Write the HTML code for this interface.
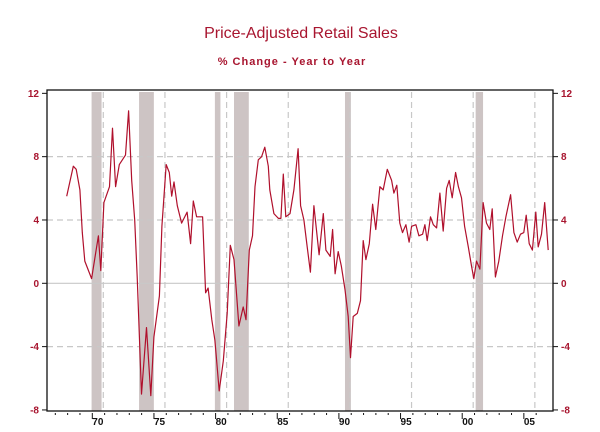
<!DOCTYPE html>
<html><head><meta charset="utf-8"><style>
body{margin:0;background:#fff;}
svg{display:block;font-family:"Liberation Sans",sans-serif;}
</style></head><body>
<svg id="chart" width="600" height="432" viewBox="0 0 600 432">
<text x="301" y="38" text-anchor="middle" font-size="16" fill="#a8152f">Price-Adjusted Retail Sales</text>
<text x="292" y="65" text-anchor="middle" font-size="11" font-weight="bold" letter-spacing="1" fill="#a8152f">% Change - Year to Year</text>
<g id="bands"></g><g id="grid"></g><g id="series"></g><g id="axes"></g>
</svg>
<script>
const years=[1967.03,1967.57,1967.8,1968.1,1968.3,1968.5,1969.05,1969.6,1969.8,1970.05,1970.5,1970.75,1971.0,1971.3,1971.8,1972.05,1972.3,1972.55,1972.75,1973.1,1973.5,1973.85,1974.1,1974.55,1974.75,1975.1,1975.35,1975.55,1975.73,1976.0,1976.35,1976.8,1977.08,1977.3,1977.57,1978.05,1978.3,1978.5,1978.8,1979.05,1979.4,1979.73,1980.05,1980.3,1980.6,1981.0,1981.35,1981.57,1981.84,1982.1,1982.3,1982.57,1982.84,1983.1,1983.38,1983.5,1983.84,1984.2,1984.4,1984.6,1984.8,1985.14,1985.46,1985.8,1986.0,1986.27,1986.54,1986.8,1987.08,1987.5,1987.84,1988.05,1988.4,1988.6,1988.8,1989.05,1989.3,1989.6,1989.86,1990.05,1990.27,1990.6,1990.86,1991.08,1991.3,1991.57,1991.84,1992.1,1992.43,1992.7,1993.03,1993.38,1993.57,1993.8,1994.05,1994.27,1994.54,1994.8,1995.0,1995.35,1995.6,1995.9,1996.08,1996.27,1996.54,1996.76,1997.03,1997.3,1997.57,1997.84,1998.05,1998.3,1998.57,1998.8,1999.05,1999.3,1999.6,1999.86,2000.05,2000.27,2000.54,2000.8,2001.08,2001.35,2001.54,2001.8,2002.08,2002.38,2002.65,2003.03,2003.3,2003.57,2003.84,2004.1,2004.3,2004.54,2004.8,2005.08,2005.27,2005.54,2005.8,2006.08];
const values=[5.5,7.4,7.2,5.9,3.2,1.4,0.3,3.0,0.8,5.1,6.1,9.8,6.1,7.5,8.1,10.9,6.5,4.0,0.4,-7.0,-2.8,-7.1,-3.4,-0.8,3.6,7.5,7.0,5.5,6.4,4.9,3.8,4.5,2.5,5.2,4.2,4.2,-0.6,-0.3,-2.3,-3.6,-6.8,-4.9,-1.9,2.4,1.5,-2.7,-1.5,-2.3,2.1,3.0,6.1,7.8,8.0,8.6,7.4,5.9,4.4,4.1,4.1,6.9,4.2,4.4,5.9,8.5,4.9,4.0,2.3,0.7,4.9,1.8,4.4,2.1,1.7,3.4,0.6,2.0,1.1,-0.4,-2.1,-4.7,-2.1,-1.9,-1.1,2.7,1.5,2.5,5.0,3.4,6.1,5.9,7.2,6.5,5.7,6.2,3.8,3.2,3.7,2.6,3.6,3.7,3.0,3.1,3.7,2.7,4.2,3.7,3.5,5.7,3.3,6.0,6.5,5.4,7.0,6.1,5.4,3.6,2.3,1.1,0.3,1.4,0.9,5.1,3.8,3.4,4.7,0.4,1.4,3.0,4.2,5.6,3.2,2.6,3.1,3.2,4.3,2.5,2.1,4.5,2.3,3.1,5.1,2.1];
const bandStart=[1969.05,1972.9,1979.05,1980.6,1989.6,2000.2];
const bandEnd=[1969.86,1974.1,1979.5,1981.8,1990.08,2000.8];
const yTicks=[-8,-4,0,4,8,12];
const xGridYears=[1970,1975,1980,1985,1990,1995,2000,2005];
const xLabels=["70","75","80","85","90","95","00","05"];

const L=47,R=553,T=90,B=411;
const X=y=>103.3+(y-1970)*12.33;
const Y=v=>283.3-v*15.83;
const NS="http://www.w3.org/2000/svg";
function mk(t,a,p){const e=document.createElementNS(NS,t);for(const k in a)e.setAttribute(k,a[k]);p.appendChild(e);return e;}
const bands=document.getElementById('bands'),grid=document.getElementById('grid'),ser=document.getElementById('series'),ax=document.getElementById('axes');
bandStart.forEach((s,i)=>{const r=mk('rect',{x:X(s),y:T+2,width:X(bandEnd[i])-X(s),height:B-T-2,fill:'#cdc4c4'},bands);

});
yTicks.forEach(v=>{if(v===12||v===-8)return;const l=mk('line',{x1:L,x2:R,y1:Y(v),y2:Y(v),stroke:'#c8c8c8','stroke-width':1.2,'stroke-dasharray':v===0?'':'6,4'},grid);

});
xGridYears.forEach(y=>{const l=mk('line',{x1:X(y),x2:X(y),y1:T+2,y2:B,stroke:'#c8c8c8','stroke-width':1.2,'stroke-dasharray':'6,4'},grid);

});
const p=mk('polyline',{points:years.map((y,i)=>X(y).toFixed(1)+','+Y(values[i]).toFixed(1)).join(' '),fill:'none',stroke:'#b0102c','stroke-width':1.2,'stroke-linejoin':'round'},ser);


const f=mk('rect',{x:L,y:T,width:R-L,height:B-T,fill:'none',stroke:'#111','stroke-width':1.3},ax);


yTicks.forEach(v=>{
mk('line',{x1:L-5,x2:L,y1:Y(v),y2:Y(v),stroke:'#111'},ax);
mk('line',{x1:R,x2:R+5,y1:Y(v),y2:Y(v),stroke:'#111'},ax);
const t1=mk('text',{x:L-8,y:Y(v)+3.5,'text-anchor':'end','font-size':10,'font-weight':'bold',fill:'#a8152f'},ax);t1.textContent=v;


const t2=mk('text',{x:R+8,y:Y(v)+3.5,'font-size':10,'font-weight':'bold',fill:'#a8152f'},ax);t2.textContent=v;

});
for(let y=1966;y<=2006;y++){const x=X(y)-11;if(x<L||x>R)continue;mk('line',{x1:x,x2:x,y1:B+2,y2:B+(y%5===0?8:4),stroke:'#111'},ax);}
xGridYears.forEach((y,i)=>{const t=mk('text',{x:X(y)-11,y:B+14,'font-size':10,'font-weight':'bold',fill:'#111'},ax);t.textContent=xLabels[i];

});
</script>
</body></html>
